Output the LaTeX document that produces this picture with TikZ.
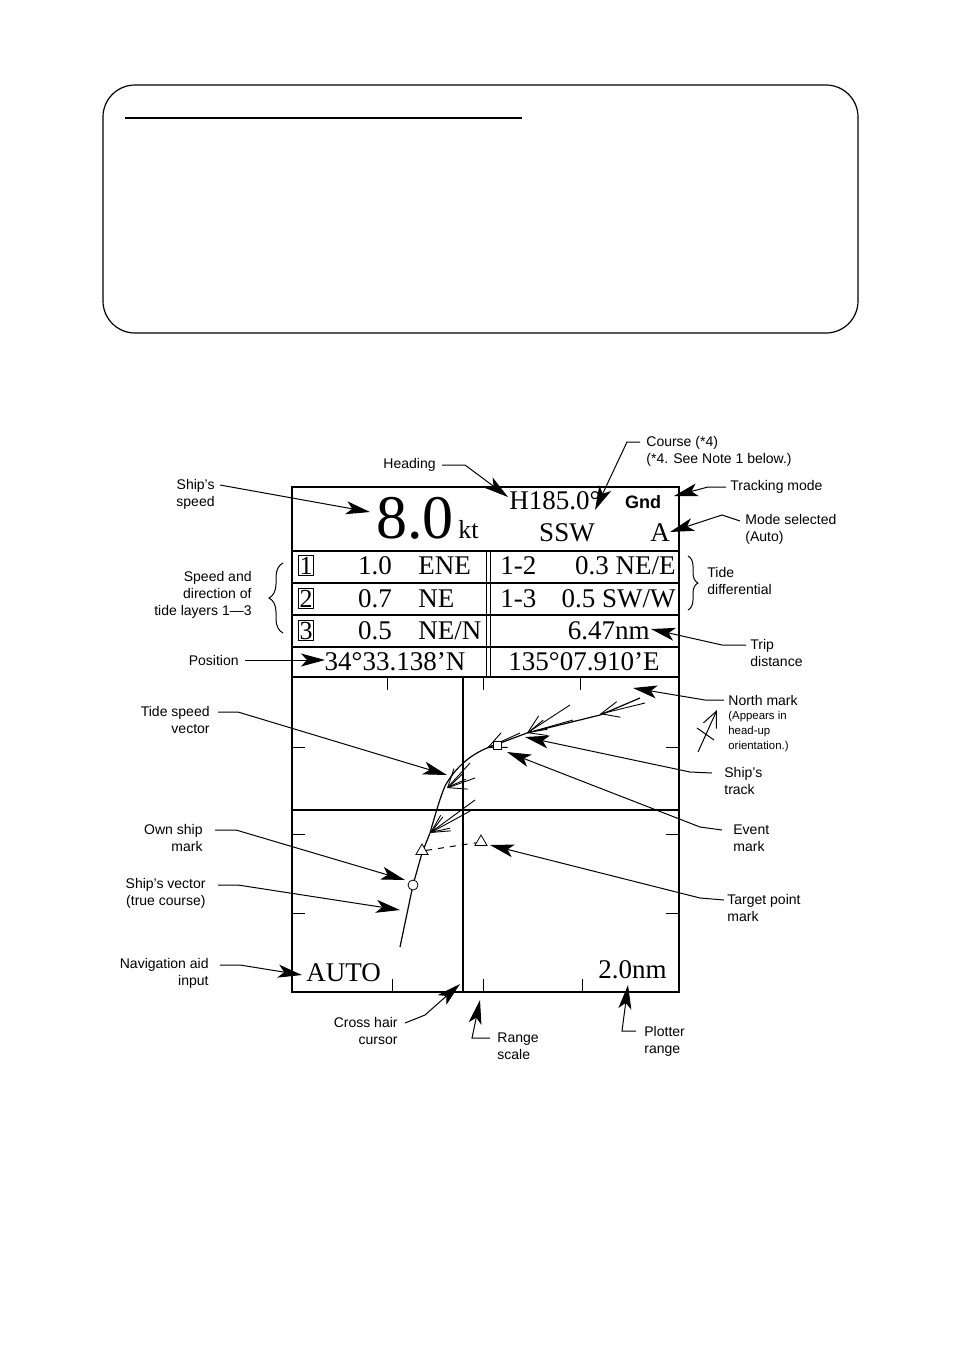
\documentclass[tikz,border=0pt]{standalone}
\usepackage{fontspec}
\setmainfont{Liberation Serif}
\setsansfont{Liberation Sans}
\usetikzlibrary{arrows.meta,decorations.pathreplacing,shapes.geometric}
\tikzset{>={Stealth[length=12pt,width=6.5pt,inset=3pt]}}
\tikzset{
  lbl/.style={font=\sffamily\fontsize{7}{8.5}\selectfont, align=right, anchor=east, inner sep=0pt},
  lblr/.style={lbl, align=left, anchor=west},
  disp/.style={font=\fontsize{13.5}{13.5}\selectfont, inner sep=0pt},
  callout/.style={->, line width=0.5pt},
  tidevec/.style={-{Straight Barb[length=9pt,width=8pt]}, line width=0.45pt},
  num/.style={draw, line width=0.5pt, inner sep=0.5pt, font=\fontsize{13}{13}\selectfont},
  tgt/.style={draw, regular polygon, regular polygon sides=3, inner sep=0pt, minimum size=7pt, fill=white}
}
\begin{document}
\begin{tikzpicture}[x=0.5pt,y=-0.5pt]
  \useasboundingbox (0,0) rectangle (954,1351);

  %% note frame
  \draw[line width=0.6pt, rounded corners=16pt] (103,85) rectangle (858,333);
  \draw[line width=0.6pt] (125,118) -- (522,118);

  %% display
  \draw[line width=0.7pt] (292,487) rectangle (679,992);
  \foreach \y in {551,583,615,647,677}
    \draw[line width=0.6pt] (292,\y) -- (679,\y);
  \draw[line width=0.5pt] (486,551) -- (486,677);
  \draw[line width=0.5pt] (490,551) -- (490,677);
  \draw[line width=0.6pt] (463,677) -- (463,992);
  \draw[line width=0.6pt] (292,810) -- (679,810);
  \foreach \x in {387,483,580} \draw (\x,677) -- (\x,690);
  \foreach \x in {392,483,582} \draw (\x,992) -- (\x,979);
  \foreach \y in {747,834,913} {
    \draw (292,\y) -- (305,\y);
    \draw (679,\y) -- (666,\y);
  }

  %% display texts
  \node[font=\fontsize{31}{31}\selectfont, inner sep=0pt, anchor=base] (spd) at (415,538) {8.0};
  \node[font=\fontsize{13}{13}\selectfont, inner sep=0pt, anchor=base west] (kt) at (458,538) {kt};
  \node[disp, anchor=base] (hdg) at (555,509) {H185.0°};
  \node[font=\sffamily\bfseries\fontsize{9}{9}\selectfont, inner sep=0pt, anchor=base] (gnd) at (643,508) {Gnd};
  \node[disp, anchor=base] (crs) at (567,541) {SSW};
  \node[disp, anchor=base] (mode) at (660,541) {A};

  \node[num, anchor=base] (n1) at (306,574) {1};
  \node[num, anchor=base] (n2) at (306,607) {2};
  \node[num, anchor=base] (n3) at (306,639) {3};
  \node[disp, anchor=base] (s1) at (375,574) {1.0};
  \node[disp, anchor=base] (s2) at (375,607) {0.7};
  \node[disp, anchor=base] (s3) at (375,639) {0.5};
  \node[disp, anchor=base west] (d1) at (418,574) {ENE};
  \node[disp, anchor=base west] (d2) at (418,607) {NE};
  \node[disp, anchor=base west] (d3) at (418,639) {NE/N};
  \node[disp, anchor=base west] (r12) at (500,574) {1-2};
  \node[disp, anchor=base west] (r13) at (500,607) {1-3};
  \node[disp, anchor=base east] (v12) at (676,574) {0.3 NE/E};
  \node[disp, anchor=base east] (v13) at (676,607) {0.5 SW/W};
  \node[disp, anchor=base east] (trip) at (650,639) {6.47nm};
  \node[disp, anchor=base] (lat) at (395,670) {34°33.138’N};
  \node[disp, anchor=base] (lon) at (584,670) {135°07.910’E};
  \node[disp, anchor=base west] (auto) at (306,981) {AUTO};
  \node[disp, anchor=base east] (rng) at (667,978) {2.0nm};

  %% track and marks
  \draw[line width=0.6pt] (400,947) -- (413,885) -- (422,853) -- (430,833)
    .. controls (436,812) and (440,798) .. (445,786)
    .. controls (455,768) and (470,755) .. (487,748)
    -- (527,733) -- (600,715) -- (640,698);
  \draw[tidevec] (645,703) -- (600,714);
  \draw[tidevec] (573,720) -- (527,733);
  \draw[tidevec] (570,705) -- (527,733);
  \draw[tidevec] (520,733) -- (487,748);
  \draw[tidevec] (470,763) -- (447,788);
  \draw[tidevec] (475,778) -- (447,788);
  \draw[tidevec] (472,810) -- (430,833);
  \draw[tidevec] (475,800) -- (430,833);
  \node[draw, circle, fill=white, inner sep=0pt, minimum size=5pt] (own) at (413,885) {};
  \node[tgt] (tri1) at (422,851) {};
  \node[tgt] (tri2) at (481,842) {};
  \node[draw, inner sep=0pt, minimum size=4pt, fill=white] (evt) at (497,745) {};
  \draw[dashed, line width=0.5pt] (tri1) -- (tri2);
  %% north mark symbol
  \coordinate (nmA) at (698,752);
  \coordinate (nmB) at (717,710);
  \draw[-{Straight Barb[length=8pt,width=7pt]}, line width=0.5pt] (nmA) -- (nmB);
  \draw[line width=0.5pt] (697,728) -- (714,740);

  %% callouts, left side
  \node[lbl] (lspd) at (215,494) {Ship's\\speed};
  \draw[callout] (220,485) -- (370,512);
  \node[lbl] (lsdt) at (252,595) {Speed and\\direction of\\tide layers 1---3};
  \draw[decorate, decoration={brace, amplitude=7pt}, line width=0.5pt] (283,633) -- (283,563);
  \node[lbl] (lpos) at (239,660) {Position};
  \draw[callout] (245,660) -- (325,660);
  \node[lbl] (ltsv) at (210,720) {Tide speed\\vector};
  \draw[callout] (218,712) -- (238,712) -- (447,775);
  \node[lbl] (lown) at (203,838) {Own ship\\mark};
  \draw[callout] (215,830) -- (236,830) -- (405,880);
  \node[lbl] (lvec) at (206,893) {Ship's vector\\(true course)};
  \draw[callout] (218,885) -- (238,885) -- (400,910);
  \node[lbl] (lnav) at (209,973) {Navigation aid\\input};
  \draw[callout] (220,965) -- (240,965) -- (302,975);
  \node[lbl] (lcur) at (398,1031) {Cross hair\\cursor};
  \draw[callout] (405,1023) -- (425,1015) -- (460,984);
  \node[lbl] (lhdg) at (436,465) {Heading};
  \draw[callout] (442,465) -- (465,465) -- (508,497);

  %% callouts, right side
  \node[lblr] (lcrs) at (646,451) {Course (*4)\\(*4. See Note 1 below.)};
  \draw[callout] (640,442) -- (627,442) -- (595,510);
  \node[lblr] (ltrk) at (730,487) {Tracking mode};
  \draw[callout] (726,487) -- (708,487) -- (674,496);
  \node[lblr] (lmod) at (745,529) {Mode selected\\(Auto)};
  \draw[callout] (740,521) -- (722,515) -- (670,532);
  \draw[decorate, decoration={brace, amplitude=5pt}, line width=0.5pt] (688,556) -- (688,610);
  \node[lblr] (ltde) at (707,581) {Tide\\differential};
  \node[lblr] (ltrp) at (750,653) {Trip\\distance};
  \draw[callout] (746,645) -- (722,645) -- (651,629);
  \node[lblr] (lnor) at (728,700) {North mark};
  \node[lblr, font=\sffamily\fontsize{5.7}{7.5}\selectfont] (lnor2) at (728,732) {(Appears in\\head-up\\orientation.)};
  \draw[callout] (724,700) -- (705,700) -- (633,688);
  \node[lblr] (lshp) at (724,781) {Ship's\\track};
  \draw[callout] (712,773) -- (690,772) -- (525,737);
  \node[lblr] (levt) at (733,838) {Event\\mark};
  \draw[callout] (722,830) -- (700,827) -- (507,752);
  \node[lblr] (ltgt) at (727,908) {Target point\\mark};
  \draw[callout] (724,900) -- (700,898) -- (490,845);
  \node[lblr] (lrsc) at (497,1046) {Range\\scale};
  \draw[callout] (490,1038) -- (472,1038) -- (480,1000);
  \node[lblr] (lplt) at (644,1041) {Plotter\\range};
  \draw[callout] (636,1031) -- (622,1031) -- (628,985);
\end{tikzpicture}
\end{document}
